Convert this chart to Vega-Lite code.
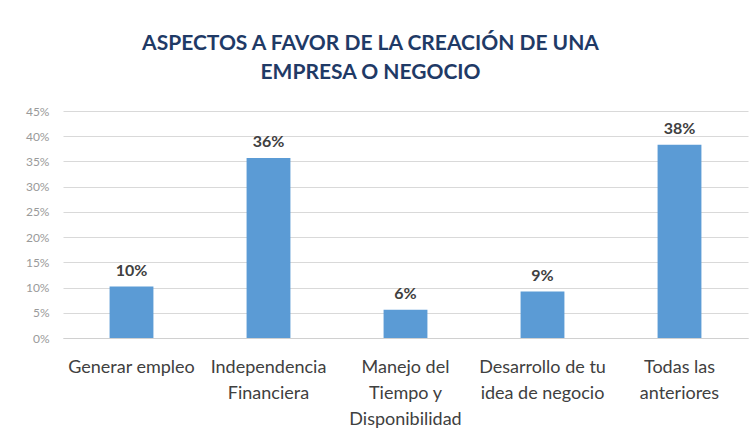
{
  "$schema": "https://vega.github.io/schema/vega-lite/v6.json",
  "width": 685,
  "height": 227,
  "autosize": {"type": "none"},
  "padding": {"left": 63, "top": 111, "right": 7, "bottom": 94},
  "background": "white",
  "title": {
    "text": ["ASPECTOS A FAVOR DE LA CREACIÓN DE UNA", "EMPRESA O NEGOCIO"],
    "font": "Lato",
    "fontSize": 21,
    "fontWeight": "bold",
    "color": "#1F3A66",
    "anchor": "middle",
    "dx": -35,
    "offset": 22,
    "lineHeight": 29
  },
  "data": {
    "values": [
      {"aspecto": "Generar empleo", "valor": 0.102},
      {"aspecto": "Independencia|Financiera", "valor": 0.357},
      {"aspecto": "Manejo del|Tiempo y|Disponibilidad", "valor": 0.056},
      {"aspecto": "Desarrollo de tu|idea de negocio", "valor": 0.092},
      {"aspecto": "Todas las|anteriores", "valor": 0.383}
    ]
  },
  "encoding": {
    "x": {
      "field": "aspecto",
      "type": "nominal",
      "sort": null,
      "scale": {"paddingInner": 0.68, "paddingOuter": 0.34},
      "axis": {
        "title": null,
        "labelAngle": 0,
        "labelExpr": "split(datum.label, '|')",
        "labelFont": "Lato",
        "labelFontSize": 18,
        "labelColor": "#404040",
        "labelLineHeight": 26,
        "labelPadding": 20,
        "labelLimit": 200,
        "ticks": false,
        "domainColor": "#d0d0d0",
        "labelBaseline": "top"
      }
    },
    "y": {
      "field": "valor",
      "type": "quantitative",
      "scale": {"domain": [0, 0.45]},
      "axis": {
        "title": null,
        "values": [0, 0.05, 0.1, 0.15, 0.2, 0.25, 0.3, 0.35, 0.4, 0.45],
        "format": ".0%",
        "labelFont": "Lato",
        "labelFontSize": 12,
        "labelColor": "#9a9a9a",
        "labelPadding": 14,
        "ticks": false,
        "domain": false,
        "gridColor": "#d9d9d9",
        "gridWidth": 1
      }
    }
  },
  "layer": [
    {"mark": {"type": "bar", "color": "#5B9BD5"}},
    {
      "mark": {"type": "text", "dy": -11, "font": "Lato", "fontSize": 16, "fontWeight": "bold", "color": "#404040", "baseline": "alphabetic"},
      "encoding": {"text": {"field": "valor", "type": "quantitative", "format": ".0%"}}
    }
  ],
  "config": {"view": {"stroke": null}}
}
